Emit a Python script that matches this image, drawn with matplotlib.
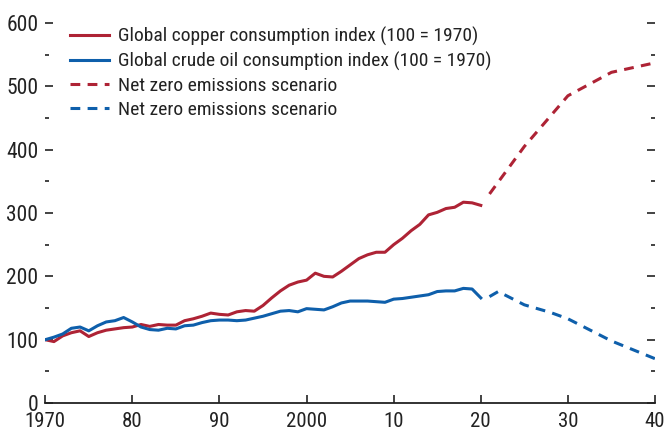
import matplotlib
matplotlib.use("Agg")
import matplotlib.pyplot as plt
from matplotlib import font_manager
from matplotlib.ticker import MultipleLocator
import numpy as np

# pick a condensed sans font if available
_names = {f.name: f for f in font_manager.fontManager.ttflist}
_cands = ['Roboto Condensed', 'Liberation Sans Narrow', 'DejaVu Sans Condensed',
          'Open Sans Condensed', 'Noto Sans Condensed', 'Arial Narrow']
_chosen = None
for c in _cands:
    if c in _names:
        _chosen = c
        break
_stretch = 'normal'
if _chosen is None:
    for f in font_manager.fontManager.ttflist:
        if 'ondensed' in f.fname or 'Narrow' in f.fname or f.stretch in ('condensed', 'semi-condensed', 575, 500):
            _chosen = f.name
            _stretch = f.stretch
            break
if _chosen is None:
    _chosen = 'Roboto'
plt.rcParams['font.family'] = [_chosen, 'DejaVu Sans']
plt.rcParams['font.stretch'] = _stretch

years_hist = list(range(1970, 2021))
copper = [100, 97, 106, 111, 114, 105, 111, 115, 117, 119,
          120, 124, 121, 124, 123, 123, 130, 133, 137, 142,
          140, 139, 144, 146, 145, 154, 166, 177, 186, 191,
          194, 205, 200, 199, 208, 218, 228, 234, 238, 238,
          250, 260, 272, 282, 297, 301, 307, 309, 317, 316,
          312]
oil = [100, 104, 109, 118, 120, 114, 122, 128, 130, 135,
       128, 120, 116, 115, 118, 117, 122, 123, 127, 130,
       131, 131, 130, 131, 134, 137, 141, 145, 146, 144,
       149, 148, 147, 152, 158, 161, 161, 161, 160, 159,
       164, 165, 167, 169, 171, 176, 177, 177, 181, 180,
       166]

years_copper_nz = [2021, 2025, 2030, 2035, 2040]
copper_nz = [330, 405, 485, 522, 537]
years_oil_nz = [2021, 2022, 2025, 2028, 2030, 2035, 2040]
oil_nz = [168, 176, 155, 143, 133, 98, 70]

xticks = [1970, 1980, 1990, 2000, 2010, 2020, 2030, 2040]
xticklabels = ['1970', '80', '90', '2000', '10', '20', '30', '40']

red = '#AE2335'
blue = '#0E5FAB'

fig = plt.figure(figsize=(6.65, 4.32), dpi=100)
ax = fig.add_axes([0.068, 0.067, 0.917, 0.880])

lw = 2.2
ax.plot(years_hist, copper, color=red, lw=lw,
        label='Global copper consumption index (100 = 1970)')
ax.plot(years_hist, oil, color=blue, lw=lw,
        label='Global crude oil consumption index (100 = 1970)')
ax.plot(years_copper_nz, copper_nz, color=red, lw=lw, dashes=(3.2, 2.4),
        label='Net zero emissions scenario')
ax.plot(years_oil_nz, oil_nz, color=blue, lw=lw, dashes=(3.2, 2.4),
        label='Net zero emissions scenario')

ax.set_xlim(1970, 2040)
ax.set_ylim(0, 600)
ax.set_xticks(xticks)
ax.set_xticklabels(xticklabels)
ax.yaxis.set_major_locator(MultipleLocator(100))
ax.yaxis.set_minor_locator(MultipleLocator(50))

for s in ['top', 'left', 'right']:
    ax.spines[s].set_visible(False)
ax.spines['bottom'].set_linewidth(1.3)
ax.spines['bottom'].set_color('#222222')

ax.tick_params(axis='x', direction='in', length=6, width=1.2, colors='#222222',
               labelsize=15, pad=6.5, labelcolor='#222222')
ax.tick_params(axis='y', which='major', direction='in', length=6, width=1.2,
               left=True, right=True, labelsize=15.5, pad=5, colors='#222222')
ax.tick_params(axis='y', which='minor', direction='in', length=3, width=1.2,
               left=True, right=True, colors='#222222')

leg = ax.legend(loc='upper left', bbox_to_anchor=(0.028, 1.009), frameon=False,
                fontsize=14, handlelength=2.0, handletextpad=0.45,
                labelspacing=0.3, borderaxespad=0.0)
for t in leg.get_texts():
    t.set_color('#222222')

fig.savefig('out.png', dpi=100)
